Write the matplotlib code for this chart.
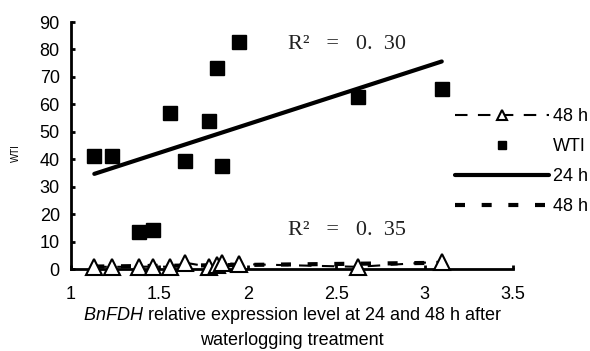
import numpy as np
import matplotlib
matplotlib.use("Agg")
import matplotlib.pyplot as plt

plt.rcParams['font.family'] = ['Liberation Sans', 'DejaVu Sans']
plt.rcParams['mathtext.fontset'] = 'custom'
plt.rcParams['mathtext.it'] = 'Liberation Sans:italic'
plt.rcParams['mathtext.rm'] = 'Liberation Sans'

# data
expr = [1.132, 1.230, 1.386, 1.465, 1.562, 1.646, 1.782, 1.826, 1.854, 1.952, 2.622, 3.097]
wti = [41.2, 41.2, 13.6, 14.2, 56.7, 39.5, 54.0, 73.1, 37.6, 82.7, 62.8, 65.5]
wti_48h = [0.8, 0.8, 0.8, 0.9, 0.8, 2.3, 0.8, 1.5, 2.2, 1.8, 0.8, 2.7]
x_ticks = [1, 1.5, 2, 2.5, 3, 3.5]
y_ticks = [0, 10, 20, 30, 40, 50, 60, 70, 80, 90]
r2_24 = "R²   =   0.  30"
r2_48 = "R²   =   0.  35"

x = np.array(expr)
y24 = np.array(wti)
y48 = np.array(wti_48h)

FS = 13

fig = plt.figure(figsize=(5.9, 3.51), dpi=100)
ax = fig.add_axes([0.1203, 0.2336, 0.8695 - 0.1203, 0.9373 - 0.2336])

order = np.argsort(x)
h48, = ax.plot(x[order], y48[order], color='black', lw=1.5, ls=(0, (6, 5)),
               marker='^', ms=11, mfc='white', mec='black', mew=1.5, label='48 h',
               zorder=3, clip_on=False)
hw, = ax.plot(x, y24, ls='none', marker='s', ms=10, color='black', label='WTI', zorder=4,
              clip_on=False)

xs = np.array([x.min(), x.max()])
p24 = np.polyfit(x, y24, 1)
h24, = ax.plot(xs, np.polyval(p24, xs), color='black', lw=3, solid_capstyle='round', label='24 h', zorder=2)
p48 = np.polyfit(x, y48, 1)
h48t, = ax.plot(xs, np.polyval(p48, xs), color='black', lw=3, ls=(0, (2.4, 4)), label='48 h', zorder=2)

ax.set_xlim(1, 3.5)
ax.set_ylim(0, 90)
ax.set_xticks(x_ticks)
ax.set_xticklabels(['1', '1.5', '2', '2.5', '3', '3.5'])
ax.set_yticks(y_ticks)
for s in ['top', 'right']:
    ax.spines[s].set_visible(False)
for s in ['left', 'bottom']:
    ax.spines[s].set_linewidth(2)
ax.tick_params(axis='both', direction='in', length=3, width=2, labelsize=FS)
ax.tick_params(axis='y', pad=8)
ax.tick_params(axis='x', pad=12)

ax.set_xlabel('$\\it{BnFDH}$ relative expression level at 24 and 48 h after\nwaterlogging treatment',
              fontsize=FS, linespacing=1.45, labelpad=2)
ax.set_ylabel('WTI', fontsize=7)
ax.yaxis.set_label_coords(-0.113, 0.47)

ax.text(2.23, 81.8, r2_24, fontfamily='Liberation Serif', fontsize=16, va='center', ha='left', color='#222222')
ax.text(2.23, 14.0, r2_48, fontfamily='Liberation Serif', fontsize=16, va='center', ha='left', color='#222222')

leg = ax.legend(handles=[h48, hw, h24, h48t], loc='upper left', bbox_to_anchor=(0.869, 0.65),
                frameon=False, fontsize=FS, handlelength=5.2, handletextpad=0.2,
                labelspacing=0.72, markerscale=0.6, numpoints=1, borderaxespad=0,
                borderpad=0)

fig.savefig('out.png', dpi=100)
